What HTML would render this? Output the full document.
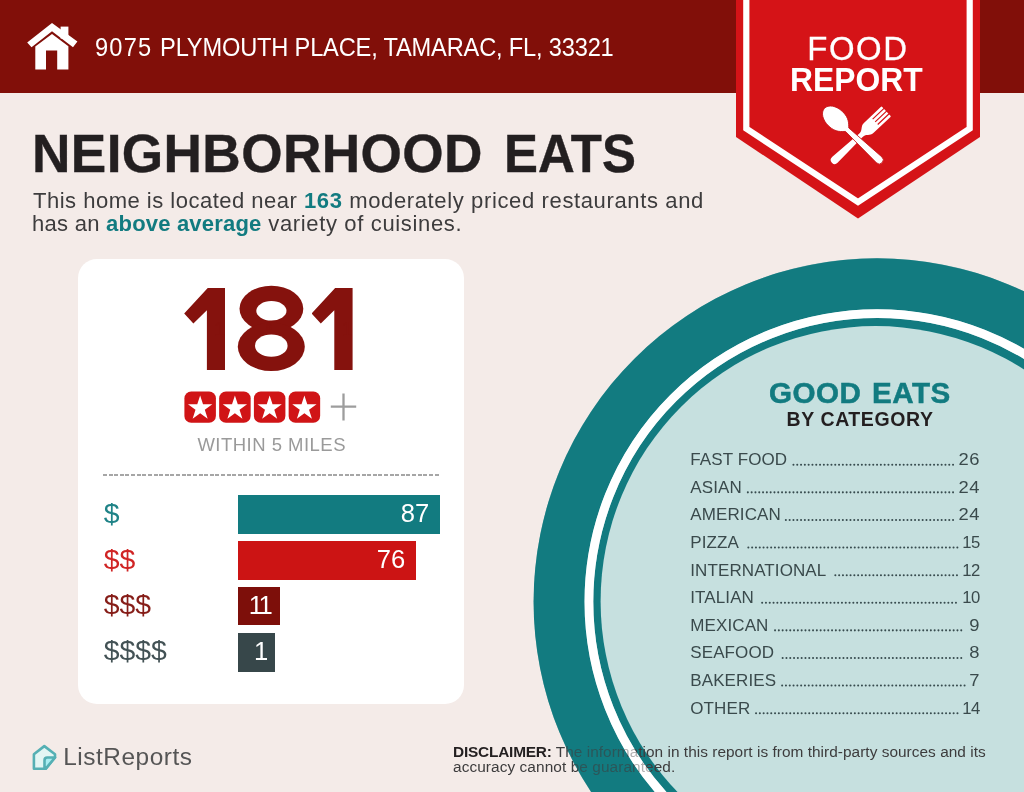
<!DOCTYPE html>
<html lang="en">
<head>
<meta charset="utf-8">
<title>Neighborhood Eats - Food Report</title>
<style>
html,body{margin:0;padding:0;}
body{width:1024px;height:792px;position:relative;overflow:hidden;background:#f4ebe8;font-family:"Liberation Sans",sans-serif;color:#3d3c3d;}
#page{position:absolute;left:0;top:0;width:1024px;height:792px;overflow:hidden;will-change:transform;}
.abs{position:absolute;}
.t{position:absolute;white-space:nowrap;line-height:1;transform-origin:0 0;}
#hdr{left:0;top:0;width:1024px;height:93px;background:#810f09;}
#art{left:0;top:0;width:1024px;height:792px;}
#art2{left:0;top:0;width:1024px;height:792px;pointer-events:none;}
#card{left:78px;top:258.5px;width:385.5px;height:445px;background:#fff;border-radius:19px;}
.one{position:absolute;top:287.6px;width:41px;height:82.3px;background:#85120d;color:#85120d;font-size:20px;line-height:82px;text-align:right;overflow:hidden;clip-path:polygon(24px 0,41px 0,41px 82.3px,22.7px 82.3px,22.7px 22.7px,9.2px 36px,0 25.9px);}
.eight{position:absolute;left:266px;top:322.5px;font-size:10px;line-height:1;font-weight:bold;color:#85120d;}
.bar{position:absolute;left:238px;height:38.5px;}
.bar span{position:absolute;right:10.2px;top:6px;font-size:25.6px;line-height:1;color:#fff;}
.dol{font-size:28.4px;left:103.7px;}
.row{position:absolute;left:690.3px;width:289.1px;height:20px;font-size:17px;color:#3a4a4c;}
.row .l{position:absolute;left:0;top:0;line-height:1;white-space:nowrap;letter-spacing:0.1px;}
.row .n1{letter-spacing:-0.6px !important;transform:scaleX(0.98) !important;right:-0.4px !important;}
.row .n{position:absolute;right:-1px;top:0;line-height:1;white-space:nowrap;letter-spacing:0.5px;transform:scaleX(1.08);transform-origin:100% 0;}
</style>
</head>
<body>
<div id="page">
<div id="hdr" class="abs"></div>
<div id="card" class="abs"></div>

<svg id="art" class="abs" width="1024" height="792" viewBox="0 0 1024 792">
  <!-- plate -->
  <circle cx="877" cy="601.7" r="343.4" fill="#127b80"/>
  <circle cx="877.1" cy="601.8" r="288.2" fill="none" stroke="#ffffff" stroke-width="8.8"/>
  <circle cx="875.7" cy="601.2" r="275.1" fill="#c6e0df"/>
  <g stroke="#384c4f" stroke-width="2.05" stroke-linecap="round" stroke-dasharray="0.01 3.79" fill="none">
    <path d="M793.45,464.75H953.10"/>
    <path d="M747.85,492.35H953.10"/>
    <path d="M785.85,519.95H953.10"/>
    <path d="M748.35,547.55H957.40"/>
    <path d="M835.35,575.15H957.00"/>
    <path d="M762.15,602.75H956.00"/>
    <path d="M775.05,630.35H961.30"/>
    <path d="M782.65,657.95H961.30"/>
    <path d="M782.15,685.55H964.60"/>
    <path d="M756.05,713.15H957.50"/>
  </g>
  <!-- banner -->
  <polygon points="736,0 980,0 980,137 858,218.4 736,137" fill="#d51317"/>
  <polyline points="746.3,0 746.3,128.6 858,202 969.7,128.6 969.7,0" fill="none" stroke="#ffffff" stroke-width="6.2"/>
  <!-- house icon -->
  <g fill="#ffffff">
    <polygon points="52,23 77.4,41.6 73,47.2 52,31.3 31.5,47.2 27.2,42.5"/>
    <rect x="60.6" y="26.6" width="7.8" height="12"/>
    <polygon points="52,33.9 68.4,46.3 68.4,69.5 57.2,69.5 57.2,50.6 46,50.6 46,69.5 35.3,69.5 35.3,46.5"/>
  </g>
  <g transform="translate(834.8,159.9) rotate(-43.3)" fill="#ffffff">
    <path d="M0,-4 L36,-2.4 C41,-2.4 41.5,-6.9 46.5,-6.9 L70,-6.9 Q70.8,-6.9 70.8,-6 L70.8,6 Q70.8,6.9 70,6.9 L46.5,6.9 C41.5,6.9 41,2.4 36,2.4 L0,4 A4,4 0 0 1 0,-4 Z"/>
    <path d="M55.5,-3.7H71.5M55.5,0H71.5M55.5,3.7H71.5" stroke="#d51317" stroke-width="1.2" fill="none"/>
  </g>
  <g transform="translate(879.2,159.9) rotate(-136.7)" fill="#ffffff" stroke="#c41216" stroke-width="0.8">
    <path d="M0,-4 L44,-2.4 C47,-5 50,-10 60,-10 C68.5,-10 75.2,-5.6 75.2,0 C75.2,5.6 68.5,10 60,10 C50,10 47,5 44,2.4 L0,4 A4,4 0 0 1 0,-4 Z"/>
  </g>
  <rect x="184.40" y="391.5" width="31.5" height="31.3" rx="6.8" fill="#d01416"/>
  <polygon points="200.15,395.50 203.03,404.34 212.32,404.34 204.81,409.81 207.67,418.66 200.15,413.20 192.63,418.66 195.49,409.81 187.98,404.34 197.27,404.34" fill="#ffffff"/>
  <rect x="219.15" y="391.5" width="31.5" height="31.3" rx="6.8" fill="#d01416"/>
  <polygon points="234.90,395.50 237.78,404.34 247.07,404.34 239.56,409.81 242.42,418.66 234.90,413.20 227.38,418.66 230.24,409.81 222.73,404.34 232.02,404.34" fill="#ffffff"/>
  <rect x="253.90" y="391.5" width="31.5" height="31.3" rx="6.8" fill="#d01416"/>
  <polygon points="269.65,395.50 272.53,404.34 281.82,404.34 274.31,409.81 277.17,418.66 269.65,413.20 262.13,418.66 264.99,409.81 257.48,404.34 266.77,404.34" fill="#ffffff"/>
  <rect x="288.65" y="391.5" width="31.5" height="31.3" rx="6.8" fill="#d01416"/>
  <polygon points="304.40,395.50 307.28,404.34 316.57,404.34 309.06,409.81 311.92,418.66 304.40,413.20 296.88,418.66 299.74,409.81 292.23,404.34 301.52,404.34" fill="#ffffff"/>
  <path d="M330.8,406.7H356.2M343.5,393.6V420.4" stroke="#9d9d9d" stroke-width="2.3" fill="none"/>
  <g fill="#85120d"><ellipse cx="271.4" cy="308.7" rx="31.9" ry="23"/><ellipse cx="271.3" cy="346.8" rx="33.5" ry="24.2"/></g>
  <g fill="#ffffff"><ellipse cx="271.4" cy="310.8" rx="15.1" ry="9.7"/><ellipse cx="271.3" cy="345.7" rx="16.3" ry="11.1"/></g>
  <g fill="none" stroke="#55b0b4" stroke-width="2.6" stroke-linejoin="round" stroke-linecap="round">
    <path d="M44.3,746.1 L55,754.2 L55,757.5 L45.6,768.8 L33.9,768.8 L33.9,754.2 Z" fill="#e3f6f4"/>
    <path d="M55,757.5 H47.2 Q44.5,757.5 44.5,760.4 V768.8 L45.6,768.8 Z" fill="#a9eef2"/>
  </g>
</svg>

<div class="t" id="addr" style="left:94.6px;top:34.1px;font-size:26px;color:#fff;transform:scaleX(0.909);"><span style="letter-spacing:1.3px">9075 </span><span style="letter-spacing:-0.2px">PLYMOUTH PLACE, TAMARAC, FL, 33321</span></div>
<div class="t" id="food" style="left:807.2px;top:32.9px;font-size:32.9px;letter-spacing:1.6px;color:#fff;-webkit-text-stroke:0.3px #fff;">FOOD</div>
<div class="t" id="report" style="left:790.4px;top:63.1px;font-size:33.2px;color:#fff;font-weight:bold;transform:scaleX(0.959);">REPORT</div>

<div class="t" id="title" style="left:32px;top:126.6px;font-size:53.2px;letter-spacing:0.38px;font-weight:bold;color:#231f20;-webkit-text-stroke:0.4px #231f20;">NEIGHBORHOOD <span id="eats" style="display:inline-block;transform:scaleX(0.957);transform-origin:100% 50%;letter-spacing:0;">EATS</span></div>
<div class="t" id="sub1" style="left:33px;top:190.5px;font-size:21.4px;letter-spacing:0.55px;transform:scaleX(1.03);"><span style="letter-spacing:0.47px">This home is located near </span><b style="color:#127b80">163</b><span style="letter-spacing:0.6px"> moderately priced restaurants and</span></div>
<div class="t" id="sub2" style="left:32.4px;top:214px;font-size:21.4px;letter-spacing:0.42px;transform:scaleX(1.03);"><span style="letter-spacing:0.25px">has an </span><b style="color:#127b80;letter-spacing:0.17px">above average</b><span style="letter-spacing:0.62px"> variety of cuisines.</span></div>

<div id="big" class="abs" style="left:0;top:0;"><span class="one" style="left:184.2px;">1</span><span class="eight">8</span><span class="one" style="left:311.6px;">1</span></div>
<div class="t" id="within" style="left:197.4px;top:435.6px;font-size:18.5px;letter-spacing:0.48px;color:#9a9a9a;">WITHIN 5 MILES</div>
<div class="abs" id="dash" style="left:103.2px;top:473.8px;width:336.2px;height:2px;background:repeating-linear-gradient(90deg,#a6a6a6 0 4px,transparent 4px 5.62px);"></div>

<div class="t dol" id="d1" style="top:499.3px;color:#1f8387;">$</div>
<div class="t dol" id="d2" style="top:545px;color:#d02424;">$$</div>
<div class="t dol" id="d3" style="top:590.2px;color:#861d18;">$$$</div>
<div class="t dol" id="d4" style="top:635.8px;color:#435255;">$$$$</div>

<div class="bar" style="top:495px;width:201.5px;background:#127b80;"><span>87</span></div>
<div class="bar" style="top:541px;width:177.5px;background:#cc1414;"><span>76</span></div>
<div class="bar" style="top:586.8px;width:41.8px;background:#7d0f0a;"><span style="letter-spacing:-2.5px;right:9.5px;">11</span></div>
<div class="bar" style="top:633px;width:37.2px;background:#37474a;"><span style="right:7px;">1</span></div>

<div class="t" id="ge" style="left:769px;top:378.5px;font-size:28.6px;letter-spacing:0.45px;word-spacing:2px;-webkit-text-stroke:0.5px #127b80;transform:scaleX(1.035);font-weight:bold;color:#127b80;">GOOD EATS</div>
<div class="t" id="bc" style="left:786.6px;top:409.6px;font-size:19.5px;letter-spacing:0.58px;font-weight:bold;color:#231f20;">BY CATEGORY</div>

<div class="row" style="top:451.2px;"><span class="l">FAST FOOD</span><span class="n">26</span></div>
<div class="row" style="top:478.8px;"><span class="l">ASIAN</span><span class="n">24</span></div>
<div class="row" style="top:506.4px;"><span class="l">AMERICAN</span><span class="n">24</span></div>
<div class="row" style="top:534.0px;"><span class="l">PIZZA</span><span class="n n1">15</span></div>
<div class="row" style="top:561.6px;"><span class="l">INTERNATIONAL</span><span class="n n1">12</span></div>
<div class="row" style="top:589.2px;"><span class="l">ITALIAN</span><span class="n n1">10</span></div>
<div class="row" style="top:616.8px;"><span class="l">MEXICAN</span><span class="n">9</span></div>
<div class="row" style="top:644.4px;"><span class="l">SEAFOOD</span><span class="n">8</span></div>
<div class="row" style="top:672.0px;"><span class="l">BAKERIES</span><span class="n">7</span></div>
<div class="row" style="top:699.6px;"><span class="l">OTHER</span><span class="n n1">14</span></div>

<div class="t" id="lr" style="left:63.2px;top:744.6px;font-size:24.4px;letter-spacing:0.55px;color:#555;">ListReports</div>
<div class="t" id="dis1" style="left:453px;top:744.4px;font-size:15.4px;color:#3d3c3d;"><b style="color:#231f20;letter-spacing:-0.2px">DISCLAIMER:</b><span style="letter-spacing:0.035px"> The information in this report is from third-party sources and its</span></div>
<div class="t" id="dis2" style="left:453px;top:759.2px;font-size:15.4px;letter-spacing:0.08px;color:#3d3c3d;">accuracy cannot be guaranteed.</div>

<svg id="art2" class="abs" width="1024" height="792" viewBox="0 0 1024 792">
  <circle cx="877" cy="601.7" r="318" fill="none" stroke="#127b80" stroke-width="50.8" opacity="0.42"/>
  <circle cx="877.1" cy="601.8" r="288.2" fill="none" stroke="#ffffff" stroke-width="8.8" opacity="0.6"/>
</svg>
</div>
</body>
</html>
